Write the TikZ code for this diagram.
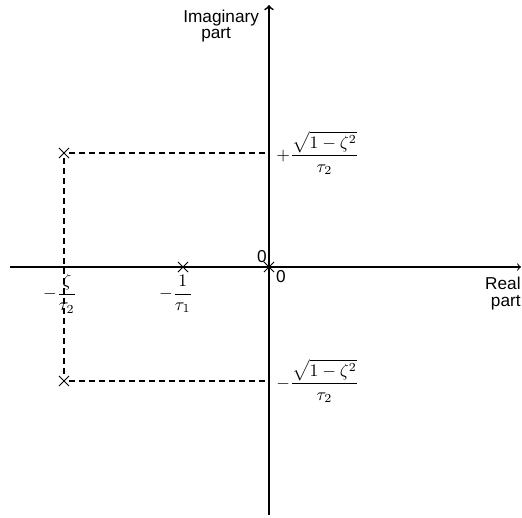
\documentclass[tikz,border=0pt]{standalone}
\usepackage{amsmath,amssymb}
\usepackage{fontspec}
\setmainfont{Liberation Sans}
\usepackage{tikz}
\usetikzlibrary{shapes.misc}
\tikzset{pole/.style={draw,cross out,minimum size=.18cm,inner sep=0pt,line width=.6pt},
guide/.style={dash pattern=on 3.4pt off 2.3pt,line width=.6pt},
lbl/.style={font=\fontsize{9.8}{11}\selectfont,inner sep=0pt}}

\begin{document}
\begin{tikzpicture}[x=0.02cm,y=-0.02cm]
\useasboundingbox (0,0) rectangle (522,518);
\coordinate (xl) at (10,267);\coordinate (xr) at (521,267);
\coordinate (yb) at (269,515);\coordinate (yt) at (269,5);
\draw[->,line width=.6pt] (xl)--(xr);
\draw[->,line width=1pt] (yb)--(yt);
\node[pole] (p0) at (269,267) {};
\node[pole] (p1) at (183,267) {};
\node[pole] (pu) at (64,153) {};
\node[pole] (pd) at (64,381) {};
\draw[guide] (pu)--(pu-|p0);\draw[guide] (pu)--(pd);\draw[guide] (pd)--(pd-|p0);
\node[lbl,anchor=north west] (imag) at (183,10) {Imaginary};
\node[lbl,anchor=north west] (part1) at (201,27) {part};
\node[lbl,anchor=north east] (real) at (521,277) {Real};
\node[lbl,anchor=north east] (part2) at (521,295) {part};
\node[lbl] (o1) at (262,257) {0};
\node[lbl] (o2) at (281,277) {0};
\node[anchor=east,inner sep=0pt] (lz) at (77,294) {$-\dfrac{\zeta}{\tau_2}$};
\node[anchor=east,inner sep=0pt] (l1) at (193,294) {$-\dfrac{1}{\tau_1}$};
\node[anchor=west,inner sep=0pt] (lu) at (276,153) {$+\dfrac{\sqrt{1-\zeta^2}}{\tau_2}$};
\node[anchor=west,inner sep=0pt] (ld) at (276,381) {$-\dfrac{\sqrt{1-\zeta^2}}{\tau_2}$};
\end{tikzpicture}
\end{document}
